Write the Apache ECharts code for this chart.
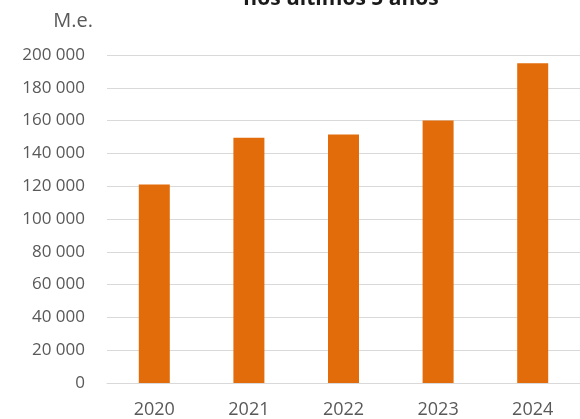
<!DOCTYPE html>
<html>
<head>
<meta charset="utf-8">
<script src="https://cdn.jsdelivr.net/npm/echarts@6/dist/echarts.min.js"></script>
<style>
  html, body { margin: 0; padding: 0; background: #fff; }
  #chart { width: 580px; height: 419px; }
</style>
</head>
<body>
<div id="chart"></div>
<script>
var years = ['2020', '2021', '2022', '2023', '2024'];
var values = [121000, 149500, 151500, 160000, 195000];
var yTicks = [0, 20000, 40000, 60000, 80000, 100000, 120000, 140000, 160000, 180000, 200000];

var myChart = echarts.init(document.getElementById('chart'));

function fmt(v) {
  return String(v).replace(/\B(?=(\d{3})+(?!\d))/g, ' ');
}

var option = {
  animation: false,
  backgroundColor: '#ffffff',
  textStyle: { fontFamily: 'Open Sans' },
  title: {
    text: 'nos últimos 5 anos',
    left: 336,
    textAlign: 'center',
    top: -16,
    textStyle: { fontSize: 21, fontWeight: 'bold', color: '#1a1a1a', fontFamily: 'Open Sans' }
  },
  grid: { left: 107, top: 55, width: 475, height: 328 },
  xAxis: {
    type: 'category',
    data: years,
    axisLine: { lineStyle: { color: '#d9d9d9', width: 1 } },
    axisTick: { show: false },
    axisLabel: { color: '#595959', fontSize: 18, margin: 18 }
  },
  yAxis: {
    type: 'value',
    name: 'M.e.',
    nameGap: 24,
    nameTextStyle: { color: '#595959', fontSize: 20, align: 'right', padding: [0, 14, 0, 0] },
    min: yTicks[0],
    max: yTicks[yTicks.length - 1],
    interval: 20000,
    axisLine: { show: false },
    axisTick: { show: false },
    axisLabel: { color: '#595959', fontSize: 17, margin: 22, formatter: fmt },
    splitLine: { lineStyle: { color: '#d9d9d9', width: 1 } }
  },
  series: [{
    type: 'bar',
    data: values,
    barWidth: 31,
    itemStyle: { color: '#e36c0a' }
  }]
};

myChart.setOption(option);
</script>
</body>
</html>
